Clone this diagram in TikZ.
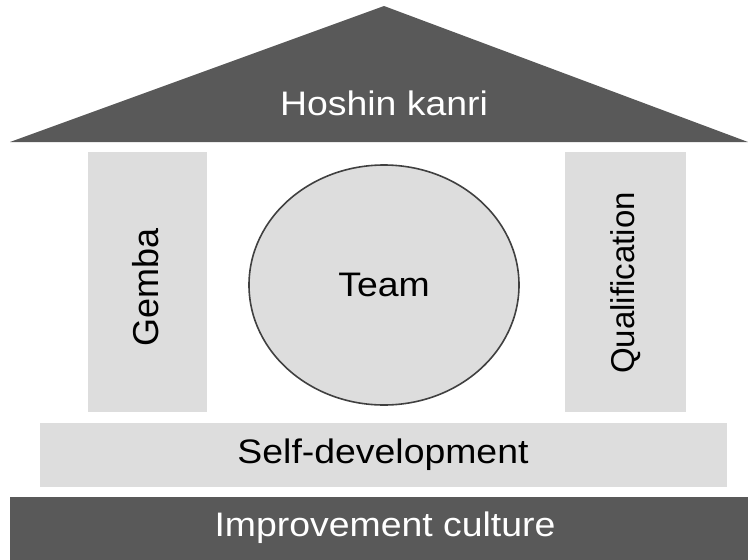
\documentclass[tikz,border=0pt]{standalone}
\usepackage{fontspec}
\setmainfont{Liberation Sans}
\definecolor{darkg}{HTML}{595959}
\definecolor{lightg}{HTML}{DDDDDD}
\definecolor{edgeg}{HTML}{404040}
\begin{document}
\begin{tikzpicture}[x=1pt,y=-1pt,
  lbl/.style={font=\fontsize{34}{40}\selectfont, inner sep=0pt, xscale=1.1},
  rlbl/.style={inner sep=0pt, rotate=90}]
\useasboundingbox (0,0) rectangle (748,560);
% roof
\fill[darkg] (10,142) -- (384,6) -- (748,142) -- cycle;
\node[lbl, text=white] (roof) at (384,103) {Hoshin kanri};
% pillars
\fill[lightg] (88,152) rectangle (207,412);
\node[rlbl, font=\fontsize{36}{40}\selectfont] (gemba) at (146,287) {Gemba};
\fill[lightg] (565,152) rectangle (686,412);
\node[rlbl, font=\fontsize{33}{40}\selectfont] (qual) at (626,283) {Qualification};
% team
\draw[fill=lightg, draw=edgeg, line width=1.6pt] (384,285) ellipse [x radius=135, y radius=120];
\node[lbl] (team) at (384,285) {Team};
% self development
\fill[lightg] (40,423) rectangle (727,487);
\node[lbl] (self) at (383,455) {Self-development};
% improvement culture
\fill[darkg] (10,497) rectangle (748,560);
\node[lbl, text=white] (imp) at (385,528) {Improvement culture};
\end{tikzpicture}
\end{document}
